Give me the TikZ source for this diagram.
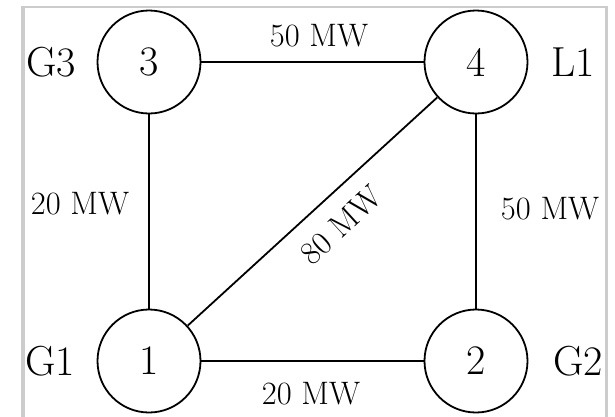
\documentclass[tikz,border=0pt]{standalone}
\begin{document}
\begin{tikzpicture}[x=1pt,y=-1pt,
  bus/.style={circle, draw, line width=1.8pt, minimum size=103pt, inner sep=0pt, font=\fontsize{42}{50}\selectfont},
  tag/.style={inner sep=0pt, font=\fontsize{42}{50}\selectfont},
  flow/.style={inner sep=0pt, font=\fontsize{32.5}{39}\selectfont},
  branch/.style={line width=1.8pt},
  frame/.style={black!20}]
\useasboundingbox (0,0) rectangle (615,416);
% light frame of the screenshot
\draw[frame, line width=4pt] (22.5,420) -- (22.5,7);
\draw[frame, line width=2pt] (20.5,7) -- (607,7);
\draw[frame, line width=3pt] (606.5,6) -- (606.5,420);
% buses
\node[bus] (n3) at (149,62) {3};
\node[bus] (n4) at (476,62) {4};
\node[bus] (n1) at (149,361) {1};
\node[bus] (n2) at (476,361) {2};
% bus tags
\node[tag] (g3) at (51,62) {G3};
\node[tag] (l1) at (573,62) {L1};
\node[tag] (g1) at (50,361) {G1};
\node[tag] (g2) at (578,361) {G2};
% branches
\draw[branch] (n3) -- (n4);
\draw[branch] (n3) -- (n1);
\draw[branch] (n4) -- (n2);
\draw[branch] (n1) -- (n2);
\draw[branch] (n1) -- (n4);
% flows
\node[flow] (f34) at (319,36) {50 MW};
\node[flow] (f13) at (80,204) {20 MW};
\node[flow] (f24) at (550,209) {50 MW};
\node[flow] (f12) at (311,394) {20 MW};
\node[flow, rotate=42.4] (f14) at (341,225) {80 MW};
\end{tikzpicture}
\end{document}
